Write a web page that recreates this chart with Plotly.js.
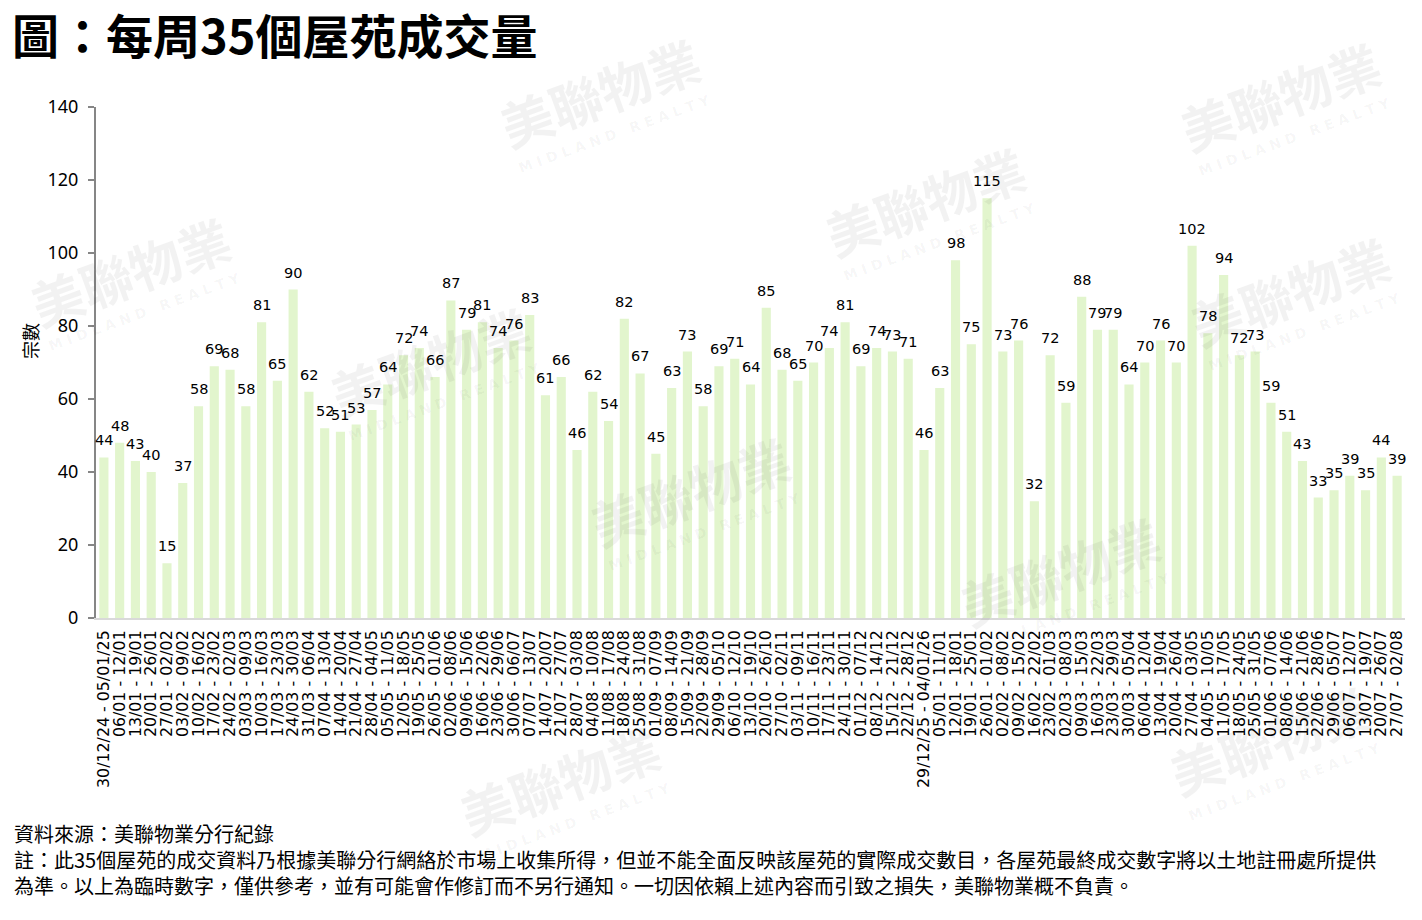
<!DOCTYPE html>
<html>
<head>
<meta charset="utf-8">
<script src="https://cdn.plot.ly/plotly-3.0.1.min.js"></script>
<style>
  html, body { margin: 0; padding: 0; background: #fff; }
  #chart { width: 1422px; height: 920px; }
</style>
</head>
<body>
<div id="chart"></div>
<script>
// weekly periods (first run: 2025, second run: 2026)
var weeks2025 = [
    '30/12/24 - 05/01/25', '06/01 - 12/01', '13/01 - 19/01', '20/01 - 26/01', '27/01 - 02/02',
    '03/02 - 09/02', '10/02 - 16/02', '17/02 - 23/02', '24/02 - 02/03', '03/03 - 09/03',
    '10/03 - 16/03', '17/03 - 23/03', '24/03 - 30/03', '31/03 - 06/04', '07/04 - 13/04',
    '14/04 - 20/04', '21/04 - 27/04', '28/04 - 04/05', '05/05 - 11/05', '12/05 - 18/05',
    '19/05 - 25/05', '26/05 - 01/06', '02/06 - 08/06', '09/06 - 15/06', '16/06 - 22/06',
    '23/06 - 29/06', '30/06 - 06/07', '07/07 - 13/07', '14/07 - 20/07', '21/07 - 27/07',
    '28/07 - 03/08', '04/08 - 10/08', '11/08 - 17/08', '18/08 - 24/08', '25/08 - 31/08',
    '01/09 - 07/09', '08/09 - 14/09', '15/09 - 21/09', '22/09 - 28/09', '29/09 - 05/10',
    '06/10 - 12/10', '13/10 - 19/10', '20/10 - 26/10', '27/10 - 02/11', '03/11 - 09/11',
    '10/11 - 16/11', '17/11 - 23/11', '24/11 - 30/11', '01/12 - 07/12', '08/12 - 14/12',
    '15/12 - 21/12', '22/12 - 28/12'
];
var weeks2026 = [
    '29/12/25 - 04/01/26', '05/01 - 11/01', '12/01 - 18/01', '19/01 - 25/01', '26/01 - 01/02',
    '02/02 - 08/02', '09/02 - 15/02', '16/02 - 22/02', '23/02 - 01/03', '02/03 - 08/03',
    '09/03 - 15/03', '16/03 - 22/03', '23/03 - 29/03', '30/03 - 05/04', '06/04 - 12/04',
    '13/04 - 19/04', '20/04 - 26/04', '27/04 - 03/05', '04/05 - 10/05', '11/05 - 17/05',
    '18/05 - 24/05', '25/05 - 31/05', '01/06 - 07/06', '08/06 - 14/06', '15/06 - 21/06',
    '22/06 - 28/06', '29/06 - 05/07', '06/07 - 12/07', '13/07 - 19/07', '20/07 - 26/07',
    '27/07 - 02/08'
];

// transactions per week, 35 estates
var deals2025 = [
    44, 48, 43, 40, 15, 37, 58, 69, 68, 58,
    81, 65, 90, 62, 52, 51, 53, 57, 64, 72,
    74, 66, 87, 79, 81, 74, 76, 83, 61, 66,
    46, 62, 54, 82, 67, 45, 63, 73, 58, 69,
    71, 64, 85, 68, 65, 70, 74, 81, 69, 74,
    73, 71
];
var deals2026 = [
    46, 63, 98, 75, 115, 73, 76, 32, 72, 59,
    88, 79, 79, 64, 70, 76, 70, 102, 78, 94,
    72, 73, 59, 51, 43, 33, 35, 39, 35, 44,
    39
];

var yTicks = [0, 20, 40, 60, 80, 100, 120, 140];

var chartTitle = '圖：每周35個屋苑成交量';
var yTitle = '宗數';
var sourceNote = '資料來源：美聯物業分行紀錄';
var disclaimer1 = '註：此35個屋苑的成交資料乃根據美聯分行網絡於市場上收集所得，但並不能全面反映該屋苑的實際成交數目，各屋苑最終成交數字將以土地註冊處所提供';
var disclaimer2 = '為準。以上為臨時數字，僅供參考，並有可能會作修訂而不另行通知。一切因依賴上述內容而引致之損失，美聯物業概不負責。';

var weeks = weeks2025.concat( weeks2026 );
var deals = deals2025.concat( deals2026 );

// page geometry
var W = 1422, H = 920;
var M = { l: 96, r: 17, t: 107, b: 302 };
var plotW = W - M.l - M.r;
var plotH = H - M.t - M.b;

function paperX( px ) { return ( px - M.l ) / plotW; }
function paperY( py ) { return ( H - M.b - py ) / plotH; }

var cjk = '"Noto Sans CJK TC", "Noto Sans", sans-serif';
var annotations = [];

// faint company watermarks (drawn first so texts sit on top)
function addWatermark( px, py ) {
    annotations.push({
        x: paperX( px ), y: paperY( py ), xref: 'paper', yref: 'paper',
        xanchor: 'center', yanchor: 'middle',
        text: '<b>美聯物業</b>', showarrow: false, textangle: -20,
        font: { family: cjk, size: 52, color: 'rgba(0,0,0,0.05)' }
    });
    annotations.push({
        x: paperX( px + 14 ), y: paperY( py + 42 ), xref: 'paper', yref: 'paper',
        xanchor: 'center', yanchor: 'middle',
        text: '<b>M I D L A N D   R E A L T Y</b>', showarrow: false, textangle: -20,
        font: { family: '"DejaVu Sans", sans-serif', size: 14, color: 'rgba(0,0,0,0.045)' }
    });
}
addWatermark( 600, 92 );
addWatermark( 925, 200 );
addWatermark( 1280, 95 );
addWatermark( 130, 270 );
addWatermark( 1290, 290 );
addWatermark( 430, 360 );
addWatermark( 690, 490 );
addWatermark( 1060, 570 );
addWatermark( 560, 780 );
addWatermark( 1270, 740 );

// value labels above the bars
for ( let i = 0; i < weeks.length; ++i ) {
    annotations.push({
        x: weeks[ i ], y: deals[ i ], xref: 'x', yref: 'y',
        text: String( deals[ i ] ), showarrow: false,
        yanchor: 'bottom', yshift: 7,
        font: { family: '"DejaVu Sans", sans-serif', size: 14.5, color: '#000' }
    });
}

// y axis title, placed where the reference has it
annotations.push({
    x: paperX( 30 ), y: paperY( 341 ), xref: 'paper', yref: 'paper',
    xanchor: 'center', yanchor: 'middle',
    text: yTitle, showarrow: false, textangle: -90,
    font: { family: cjk, size: 18, color: '#000' }
});

// footer notes as one block, middle line centred at y = 859
annotations.push({
    x: paperX( 12 ), y: paperY( 859 ), xref: 'paper', yref: 'paper',
    xanchor: 'left', yanchor: 'middle', align: 'left',
    text: [ sourceNote, disclaimer1, disclaimer2 ].join( '<br>' ),
    showarrow: false,
    font: { family: cjk, size: 20, color: '#000' }
});

var trace = {
    type: 'bar',
    x: weeks,
    y: deals,
    marker: { color: '#e2f5cd' },
    hoverinfo: 'x+y'
};

var layout = {
    width: W, height: H,
    margin: M,
    paper_bgcolor: '#fff', plot_bgcolor: 'rgba(0,0,0,0)',
    showlegend: false,
    bargap: 0.42,
    title: {
        text: chartTitle,
        x: 12 / W, xref: 'container', xanchor: 'left',
        y: 1 - 38 / H, yref: 'container', yanchor: 'middle',
        font: { family: cjk, size: 47, weight: 'bold', color: '#000' }
    },
    xaxis: {
        type: 'category',
        range: [ -0.5, weeks.length - 0.5 ],
        tickmode: 'array',
        tickvals: weeks,
        ticktext: weeks,
        tickangle: -90,
        ticks: '',
        ticklabelstandoff: 4,
        showline: true, linecolor: '#d9d9d9', linewidth: 2,
        showgrid: false, zeroline: false,
        tickfont: { family: '"DejaVu Sans", sans-serif', size: 15.8, color: '#000' }
    },
    yaxis: {
        range: [ 0, 140 ],
        tickvals: yTicks,
        ticks: 'outside', ticklen: 6, tickcolor: '#868686', tickwidth: 2,
        ticklabelstandoff: 6,
        showline: true, linecolor: '#868686', linewidth: 2,
        showgrid: false, zeroline: false,
        tickfont: { family: '"Noto Sans", sans-serif', size: 18, color: '#000' }
    },
    annotations: annotations
};

Plotly.newPlot( 'chart', [ trace ], layout, { displayModeBar: false, staticPlot: true } );
</script>
</body>
</html>
